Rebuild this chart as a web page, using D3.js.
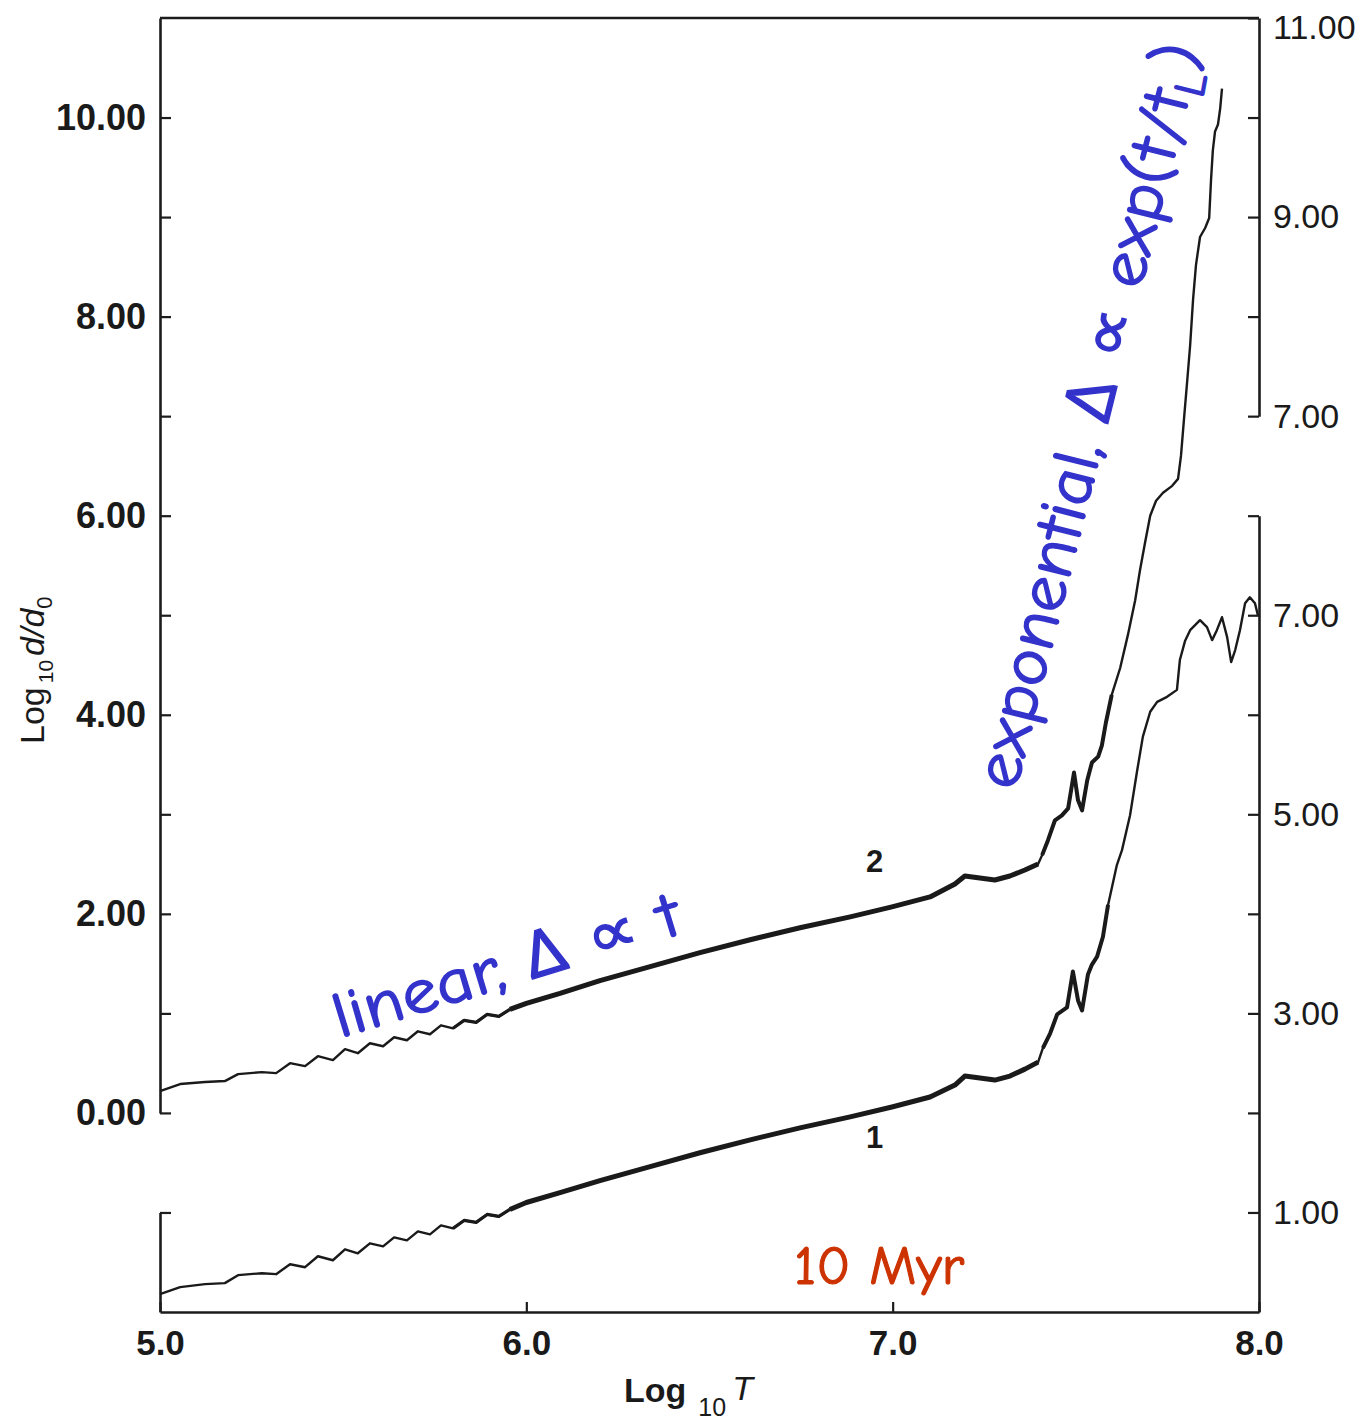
<!DOCTYPE html>
<html>
<head>
<meta charset="utf-8">
<script src="https://cdn.jsdelivr.net/npm/d3@7"></script>
<style>
  body { margin: 0; background: #fff; }
  .axis .domain { stroke: #1c1c1c; stroke-width: 2.6; }
  .axis line { stroke: #1c1c1c; stroke-width: 2.2; }
  .axis text { font-family: "Liberation Sans", Arial, sans-serif; fill: #1a1a1a; }
</style>
</head>
<body>
<script>
// curve 2 : read against the left axis
var curve2T = [5.000, 5.055, 5.123, 5.177, 5.213, 5.278, 5.317, 5.355, 5.396, 5.431,
  5.472, 5.505, 5.540, 5.573, 5.609, 5.639, 5.674, 5.704, 5.737, 5.767,
  5.800, 5.830, 5.863, 5.893, 5.925, 5.955, 6.000, 6.092, 6.201, 6.338,
  6.474, 6.611, 6.747, 6.884, 6.998, 7.102, 7.170, 7.197, 7.238, 7.279,
  7.320, 7.361, 7.397, 7.408, 7.424, 7.443, 7.462, 7.479, 7.495, 7.506,
  7.517, 7.531, 7.544, 7.561, 7.571, 7.582, 7.598, 7.621, 7.642, 7.662,
  7.675, 7.689, 7.703, 7.719, 7.738, 7.763, 7.779, 7.787, 7.795, 7.803,
  7.812, 7.820, 7.828, 7.839, 7.853, 7.864, 7.869, 7.874, 7.880, 7.888,
  7.894, 7.899];
var curve2D = [0.22, 0.29, 0.31, 0.32, 0.39, 0.41, 0.40, 0.50, 0.47, 0.57,
  0.53, 0.64, 0.60, 0.70, 0.67, 0.76, 0.73, 0.82, 0.79, 0.88,
  0.85, 0.93, 0.91, 0.99, 0.97, 1.04, 1.10, 1.20, 1.33, 1.47,
  1.61, 1.74, 1.86, 1.97, 2.07, 2.17, 2.30, 2.38, 2.36, 2.34,
  2.38, 2.44, 2.50, 2.59, 2.74, 2.94, 2.99, 3.06, 3.42, 3.14,
  3.04, 3.34, 3.52, 3.58, 3.69, 3.92, 4.20, 4.47, 4.80, 5.15,
  5.45, 5.73, 6.00, 6.15, 6.23, 6.30, 6.37, 6.60, 6.96, 7.31,
  7.71, 8.17, 8.52, 8.80, 8.89, 8.99, 9.37, 9.67, 9.86, 9.93,
  10.09, 10.29];

// curve 1 : read against the lower right axis
var curve1T = [5.000, 5.055, 5.123, 5.177, 5.213, 5.278, 5.317, 5.355, 5.396, 5.431,
  5.472, 5.505, 5.540, 5.573, 5.609, 5.639, 5.674, 5.704, 5.737, 5.767,
  5.800, 5.830, 5.863, 5.893, 5.925, 5.955, 6.000, 6.092, 6.201, 6.338,
  6.474, 6.611, 6.747, 6.884, 6.998, 7.102, 7.170, 7.197, 7.238, 7.279,
  7.320, 7.361, 7.397, 7.410, 7.430, 7.449, 7.476, 7.492, 7.506, 7.517,
  7.533, 7.544, 7.558, 7.574, 7.588, 7.612, 7.626, 7.648, 7.667, 7.683,
  7.703, 7.722, 7.749, 7.776, 7.784, 7.798, 7.812, 7.839, 7.858, 7.872,
  7.885, 7.899, 7.913, 7.924, 7.935, 7.948, 7.962, 7.975, 7.989, 7.997];
var curve1D = [0.18, 0.25, 0.28, 0.29, 0.37, 0.39, 0.38, 0.48, 0.45, 0.56,
  0.52, 0.63, 0.59, 0.69, 0.66, 0.75, 0.72, 0.81, 0.78, 0.87,
  0.84, 0.92, 0.90, 0.98, 0.96, 1.03, 1.10, 1.20, 1.32, 1.46,
  1.60, 1.73, 1.85, 1.96, 2.06, 2.16, 2.28, 2.37, 2.35, 2.33,
  2.37, 2.44, 2.51, 2.65, 2.80, 2.99, 3.06, 3.42, 3.13, 3.03,
  3.39, 3.49, 3.57, 3.77, 4.09, 4.49, 4.64, 4.99, 5.43, 5.78,
  6.03, 6.13, 6.18, 6.25, 6.55, 6.74, 6.85, 6.95, 6.88, 6.75,
  6.85, 6.98, 6.78, 6.53, 6.65, 6.85, 7.12, 7.18, 7.12, 7.00];

var xTicks = [5, 6, 7, 8];
var leftTicks = [0, 1, 2, 3, 4, 5, 6, 7, 8, 9, 10];
var leftLowTicks = [-1];
var rightTopTicks = [7, 8, 9, 10, 11];
var rightLowTicks = [1, 2, 3, 4, 5, 6, 7, 8];

var curveLabels = [{text: "2", t: 7.0, v: 2.42}, {text: "1", t: 7.0, v: -0.35}];

var width = 1363, height = 1422;

var svg = d3.select("body").append("svg")
    .attr("width", width)
    .attr("height", height);

var x = d3.scaleLinear().domain([5, 8]).range([160, 1259]);
var y = d3.scaleLinear().domain([-2, 11]).range([1312, 18]);
// lower right axis is the left axis shifted by two decades
var yLow = d3.scaleLinear().domain([0, 13]).range([1312, 18]);

function seg(scale, a, b) {
  return d3.scaleLinear().domain([a, b]).range([scale(a), scale(b)]);
}
function fmtEven(d) { return d % 2 === 0 ? d.toFixed(2) : ""; }
function fmtOdd(d) { return Math.abs(d % 2) === 1 ? d.toFixed(2) : ""; }

// top frame line
svg.append("line")
    .attr("x1", x(5)).attr("x2", x(8))
    .attr("y1", y(11)).attr("y2", y(11))
    .attr("stroke", "#1c1c1c").attr("stroke-width", 2.6);

// left axis, two pieces
var gl = svg.append("g").attr("class", "axis")
    .attr("transform", "translate(" + x(5) + ",0)")
    .call(d3.axisLeft(seg(y, 0, 11)).tickValues(leftTicks)
      .tickSizeInner(-11).tickSizeOuter(0).tickPadding(14).tickFormat(fmtEven));
gl.selectAll("text").style("font-size", "36px").style("font-weight", "bold");

svg.append("g").attr("class", "axis")
    .attr("transform", "translate(" + x(5) + ",0)")
    .call(d3.axisLeft(seg(y, -2, -1)).tickValues(leftLowTicks)
      .tickSizeInner(-11).tickSizeOuter(0).tickFormat(""));

// right axis, two pieces
var gr1 = svg.append("g").attr("class", "axis")
    .attr("transform", "translate(" + x(8) + ",0)")
    .call(d3.axisRight(seg(y, 7, 11)).tickValues(rightTopTicks)
      .tickSizeInner(-11).tickSizeOuter(0).tickPadding(14).tickFormat(fmtOdd));
gr1.selectAll("text").style("font-size", "34px");
gr1.selectAll(".tick").filter(function(d) { return d === 11; })
    .select("text").attr("dy", "0.6em");

var gr2 = svg.append("g").attr("class", "axis")
    .attr("transform", "translate(" + x(8) + ",0)")
    .call(d3.axisRight(seg(yLow, 0, 8)).tickValues(rightLowTicks)
      .tickSizeInner(-11).tickSizeOuter(0).tickPadding(14).tickFormat(fmtOdd));
gr2.selectAll("text").style("font-size", "34px");

// bottom axis
var gb = svg.append("g").attr("class", "axis")
    .attr("transform", "translate(0," + y(-2) + ")")
    .call(d3.axisBottom(x).tickValues(xTicks)
      .tickSizeInner(-10).tickSizeOuter(0).tickPadding(18).tickFormat(d3.format(".1f")));
gb.selectAll("text").style("font-size", "35px").style("font-weight", "bold");

// curves
var pts2 = curve2T.map(function(t, i) { return [t, curve2D[i]]; });
var pts1 = curve1T.map(function(t, i) { return [t, curve1D[i]]; });

var line2 = d3.line().x(function(d) { return x(d[0]); }).y(function(d) { return y(d[1]); });
var line1 = d3.line().x(function(d) { return x(d[0]); }).y(function(d) { return yLow(d[1]); });

function drawCurve(pts, gen) {
  svg.append("path").datum(pts)
      .attr("d", gen).attr("fill", "none")
      .attr("stroke", "#1a1a1a").attr("stroke-width", 2.4)
      .attr("stroke-linejoin", "round");
  svg.append("path").datum(pts.filter(function(d) { return d[0] >= 5.80 && d[0] <= 5.97; }))
      .attr("d", gen).attr("fill", "none")
      .attr("stroke", "#1a1a1a").attr("stroke-width", 3.2)
      .attr("stroke-linejoin", "round");
  svg.append("path").datum(pts.filter(function(d) { return d[0] >= 5.95 && d[0] <= 7.40; }))
      .attr("d", gen).attr("fill", "none")
      .attr("stroke", "#1a1a1a").attr("stroke-width", 5)
      .attr("stroke-linejoin", "round");
  svg.append("path").datum(pts.filter(function(d) { return d[0] >= 7.40 && d[0] <= 7.60; }))
      .attr("d", gen).attr("fill", "none")
      .attr("stroke", "#1a1a1a").attr("stroke-width", 4)
      .attr("stroke-linejoin", "round");
}
drawCurve(pts2, line2);
drawCurve(pts1, line1);

svg.selectAll(".clabel").data(curveLabels).enter().append("text")
    .attr("class", "clabel")
    .attr("x", function(d) { return x(d.t) - 18; })
    .attr("y", function(d) { return y(d.v); })
    .attr("text-anchor", "middle")
    .style("font-family", "'Liberation Sans', Arial, sans-serif")
    .style("font-size", "31px").style("font-weight", "bold")
    .style("fill", "#1a1a1a")
    .text(function(d) { return d.text; });

// axis titles
var xt = svg.append("text")
    .attr("x", 624).attr("y", 1402)
    .style("font-family", "'Liberation Sans', Arial, sans-serif")
    .style("fill", "#1a1a1a");
xt.append("tspan").style("font-size", "34px").style("font-weight", "bold").text("Log");
xt.append("tspan").attr("dx", 12).attr("dy", 14).style("font-size", "25px").text("10");
xt.append("tspan").attr("dx", 6).attr("dy", -16).style("font-size", "34px").style("font-style", "italic").text("T");

var yt = svg.append("text")
    .attr("transform", "translate(44,744) rotate(-90)")
    .style("font-family", "'Liberation Sans', Arial, sans-serif")
    .style("fill", "#1a1a1a");
yt.append("tspan").style("font-size", "34px").text("Log");
yt.append("tspan").attr("dx", 4).attr("dy", 9).style("font-size", "21px").text("10");
yt.append("tspan").attr("dx", 4).attr("dy", -9).style("font-size", "34px").style("font-style", "italic").text("d/d");
yt.append("tspan").attr("dy", 8).style("font-size", "22px").text("0");

// hand written notes
var noteFont = "'Comic Sans MS', 'Comic Neue', 'Open Sans', 'DejaVu Sans', sans-serif";

svg.append("text")
    .attr("transform", "translate(340,1038) rotate(-17)")
    .attr("textLength", 360).attr("lengthAdjust", "spacingAndGlyphs")
    .style("font-family", noteFont).style("font-size", "64px")
    .style("fill", "#3333cc").style("stroke", "#3333cc").style("stroke-width", 1.4)
    .text("linear, \u0394 \u221d t");

var ex = svg.append("text")
    .attr("transform", "translate(1016,792) rotate(-76)")
    .attr("textLength", 765).attr("lengthAdjust", "spacingAndGlyphs")
    .style("font-family", noteFont).style("font-size", "66px")
    .style("fill", "#3333cc").style("stroke", "#3333cc").style("stroke-width", 1.4);
ex.append("tspan").text("exponential, \u0394 \u221d exp(t/t");
ex.append("tspan").attr("dy", 13).style("font-size", "44px").text("L");
ex.append("tspan").attr("dy", -13).text(")");

svg.append("text")
    .attr("x", 794).attr("y", 1284)
    .attr("textLength", 170).attr("lengthAdjust", "spacingAndGlyphs")
    .style("font-family", noteFont).style("font-size", "54px")
    .style("fill", "#cc3300").style("stroke", "#cc3300").style("stroke-width", 1.2)
    .text("10 Myr");
</script>
</body>
</html>
